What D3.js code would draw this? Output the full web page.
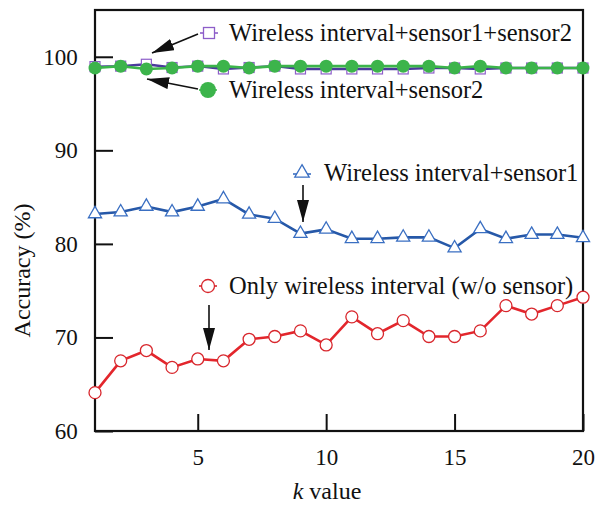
<!DOCTYPE html>
<html>
<head>
<meta charset="utf-8">
<script src="https://cdn.jsdelivr.net/npm/d3@7"></script>
<style>
  body { margin: 0; background: #fff; }
</style>
</head>
<body>
<svg id="chart" width="595" height="506"></svg>
<script>
// Data
const kValues = d3.range(1, 21);
const onlyWireless = [64.1, 67.5, 68.6, 66.8, 67.7, 67.5, 69.8, 70.1, 70.7, 69.2, 72.2, 70.4, 71.8, 70.1, 70.1, 70.7, 73.4, 72.5, 73.4, 74.3];
const sensor1 = [83.2, 83.4, 84.0, 83.4, 84.0, 84.8, 83.15, 82.7, 81.1, 81.55, 80.55, 80.55, 80.7, 80.7, 79.55, 81.6, 80.55, 81.0, 81.0, 80.65];
const sensor2 = [98.8, 99.0, 98.7, 98.8, 99.0, 99.0, 98.8, 99.0, 99.0, 99.0, 99.0, 99.0, 99.0, 99.0, 98.8, 99.0, 98.8, 98.8, 98.8, 98.8];
const sensor12 = [98.95, 99.0, 99.2, 98.85, 99.0, 98.7, 98.85, 99.0, 98.7, 98.7, 98.7, 98.7, 98.7, 98.8, 98.8, 98.7, 98.8, 98.8, 98.8, 98.8];
const xTicks = [5, 10, 15, 20];
const yTicks = [60, 70, 80, 90, 100];

const FONT = '"Liberation Serif", "Times New Roman", Times, "DejaVu Serif", serif';

const margin = {top: 10, right: 12, bottom: 75, left: 95};
const width = 595 - margin.left - margin.right;
const height = 506 - margin.top - margin.bottom;

const svg = d3.select("#chart");
const g = svg.append("g").attr("transform", `translate(${margin.left},${margin.top})`);

// Scales
const x = d3.scaleLinear().domain([1, 20]).range([0, width]);
const y = d3.scaleLinear().domain([60, 105]).range([height, 0]);

// Axes (inward ticks)
const xAxis = g.append("g")
  .attr("transform", `translate(0,${height})`)
  .call(d3.axisBottom(x).tickValues(xTicks).tickSize(-17).tickPadding(22).tickFormat(d3.format("d")));
xAxis.select(".domain").remove();
xAxis.selectAll("line").attr("stroke", "#111").attr("stroke-width", 2);
xAxis.selectAll("text").style("font-size", "23px").attr("dy", "0.5em");

const yAxis = g.append("g")
  .call(d3.axisLeft(y).tickValues(yTicks).tickSize(-18).tickPadding(30).tickFormat(d3.format("d")));
yAxis.select(".domain").remove();
yAxis.selectAll("line").attr("stroke", "#111").attr("stroke-width", 2);
yAxis.selectAll("text").style("font-size", "23px").attr("dx", "0.55em");

// Frame
g.append("rect")
  .attr("width", width).attr("height", height)
  .attr("fill", "none").attr("stroke", "#111").attr("stroke-width", 2.2);

// Axis titles
const xTitle = svg.append("text")
  .attr("x", margin.left + width / 2 - 12).attr("y", 499)
  .attr("text-anchor", "middle").style("font-size", "24px");
xTitle.append("tspan").style("font-style", "italic").text("k");
xTitle.append("tspan").text(" value");

svg.append("text")
  .attr("transform", `translate(30,${margin.top + height / 2 + 50}) rotate(-90)`)
  .attr("text-anchor", "middle").style("font-size", "24px")
  .text("Accuracy (%)");

// Lines
const line = d3.line().x((d, i) => x(kValues[i])).y(d => y(d));

function drawSeries(values, lineColor, lineWidth) {
  g.append("path").datum(values)
    .attr("fill", "none").attr("stroke", lineColor).attr("stroke-width", lineWidth)
    .attr("d", line);
}

// red: only wireless
drawSeries(onlyWireless, "#e3262c", 2.6);
g.append("g").selectAll("circle").data(onlyWireless).enter().append("circle")
  .attr("cx", (d, i) => x(kValues[i])).attr("cy", d => y(d)).attr("r", 6)
  .attr("fill", "#fff").attr("stroke", "#d8262c").attr("stroke-width", 1.3);

// blue: sensor1
const tri = d3.symbol().type(d3.symbolTriangle).size(75);
drawSeries(sensor1, "#2658a8", 2.6);
g.append("g").selectAll("path").data(sensor1).enter().append("path")
  .attr("d", tri)
  .attr("transform", (d, i) => `translate(${x(kValues[i])},${y(d)})`)
  .attr("fill", "#fff").attr("stroke", "#3a6fc2").attr("stroke-width", 1.3);

// purple: sensor1+sensor2
drawSeries(sensor12, "#4b3a9c", 2.4);
g.append("g").selectAll("rect").data(sensor12).enter().append("rect")
  .attr("x", (d, i) => x(kValues[i]) - 5).attr("y", d => y(d) - 5)
  .attr("width", 10).attr("height", 10)
  .attr("fill", "#fff").attr("stroke", "#8d5ec9").attr("stroke-width", 1.2);

// green: sensor2
drawSeries(sensor2, "#3cb44b", 2.6);
g.append("g").selectAll("circle").data(sensor2).enter().append("circle")
  .attr("cx", (d, i) => x(kValues[i])).attr("cy", d => y(d)).attr("r", 6.5)
  .attr("fill", "#3cb44b");

// Annotations
const defs = svg.append("defs");
defs.append("marker").attr("id", "head")
  .attr("viewBox", "0 0 22 12").attr("refX", 22).attr("refY", 6)
  .attr("markerWidth", 22).attr("markerHeight", 12)
  .attr("markerUnits", "userSpaceOnUse").attr("orient", "auto")
  .append("path").attr("d", "M0,0 L22,6 L0,12 Z").attr("fill", "#111");

function arrow(x1, y1, x2, y2) {
  svg.append("line").attr("x1", x1).attr("y1", y1).attr("x2", x2).attr("y2", y2)
    .attr("stroke", "#111").attr("stroke-width", 1.6).attr("marker-end", "url(#head)");
}
function label(tx, ty, txt) {
  svg.append("text").attr("x", tx).attr("y", ty).style("font-size", "24.5px").text(txt);
}
function stub(cx, cy, color) {
  svg.append("line").attr("x1", cx - 9).attr("x2", cx + 9).attr("y1", cy).attr("y2", cy)
    .attr("stroke", color).attr("stroke-width", 1.6);
}

// purple legend
stub(209, 33, "#8d5ec9");
svg.append("rect").attr("x", 203.5).attr("y", 27.5).attr("width", 11).attr("height", 11)
  .attr("fill", "#fff").attr("stroke", "#8d5ec9").attr("stroke-width", 1.3);
label(229, 41, "Wireless interval+sensor1+sensor2");
arrow(198, 34, 152, 53);

// green legend
stub(208, 90, "#3cb44b");
svg.append("circle").attr("cx", 208).attr("cy", 90).attr("r", 8).attr("fill", "#3cb44b");
label(229, 98, "Wireless interval+sensor2");
arrow(198, 89, 147, 79);

// blue legend
stub(302, 174, "#3a6fc2");
svg.append("path").attr("d", d3.symbol().type(d3.symbolTriangle).size(90))
  .attr("transform", "translate(302,173)")
  .attr("fill", "#fff").attr("stroke", "#3a6fc2").attr("stroke-width", 1.3);
label(324, 181, "Wireless interval+sensor1");
arrow(303, 185, 303, 222);

// red legend
stub(208, 286, "#d8262c");
svg.append("circle").attr("cx", 208).attr("cy", 286).attr("r", 6.5)
  .attr("fill", "#fff").attr("stroke", "#d8262c").attr("stroke-width", 1.3);
label(229, 294, "Only wireless interval (w/o sensor)");
arrow(209, 305, 209, 350);

// Apply serif font to all text
svg.selectAll("text").attr("font-family", FONT).style("font-family", FONT).attr("fill", "#111");
</script>
</body>
</html>
